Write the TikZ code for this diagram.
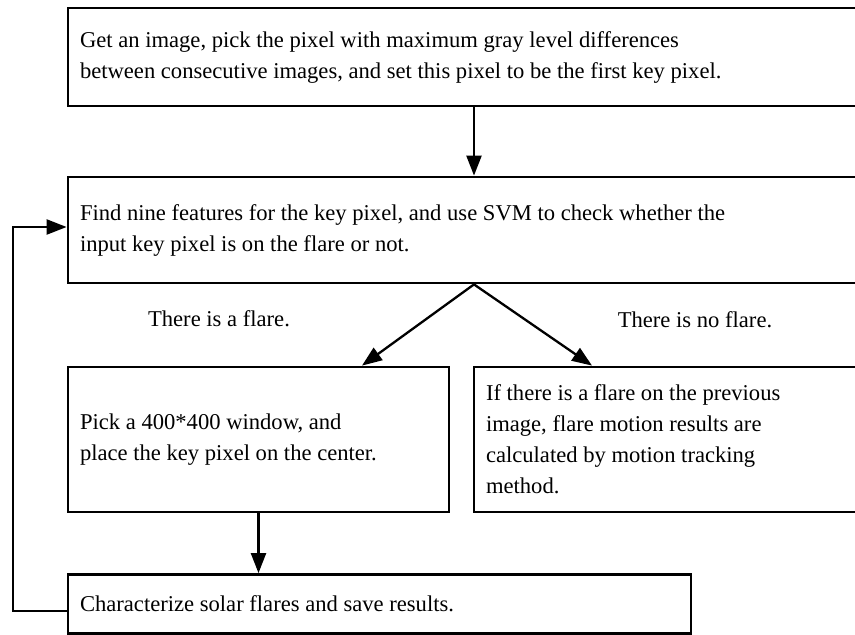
\documentclass[tikz,border=0pt]{standalone}
\usepackage{fontspec}
\setmainfont{Liberation Serif}
\usetikzlibrary{arrows.meta}
\begin{document}
\begin{tikzpicture}[x=1pt,y=-1pt,
  box/.style={draw, line width=2.8pt, inner xsep=12pt, inner ysep=0pt, align=flush left,
    font=\fontsize{22.6}{31}\selectfont},
  lbl/.style={inner sep=0pt, font=\fontsize{22.6}{31}\selectfont},
  arr/.style={line width=2.3pt, -{Triangle[length=20pt,width=15pt]}}]
\useasboundingbox (0,0) rectangle (855,635);
% boxes
\node[box, text width=778pt, minimum height=98pt] (b1) at (469,57)
  {Get an image, pick the pixel with maximum gray level differences\\
   between consecutive images, and set this pixel to be the first key pixel.};
\node[box, text width=778pt, minimum height=106pt] (b2) at (469,230)
  {Find nine features for the key pixel, and use SVM to check whether the\\
   input key pixel is on the flare or not.};
\node[box, text width=357pt, minimum height=145pt] (b3) at (258.5,439.5)
  {Pick a 400*400 window, and\\
   place the key pixel on the center.};
\node[box, text width=372pt, minimum height=145pt] (b4) at (672,439.5)
  {If there is a flare on the previous\\
   image, flare motion results are\\
   calculated by motion tracking\\
   method.};
\node[box, text width=599pt, minimum height=59pt] (b5) at (379.5,604)
  {Characterize solar flares and save results.};
% labels
\node[lbl] (l1) at (219,319) {There is a flare.};
\node[lbl] (l2) at (695,320) {There is no flare.};
% helper coordinates
\coordinate (ax) at (474,0);
\coordinate (tl) at (362,0);
\coordinate (tr) at (592,0);
\coordinate (fb1) at (13,611);
\coordinate (fb2) at (13,227);
% connectors
\draw[arr] (b1.south -| ax) -- (b2.north -| ax);
\draw[arr] (b2.south -| ax) -- (b3.north -| tl);
\draw[arr] (b2.south -| ax) -- (b4.north -| tr);
\draw[arr] (b3.south) -- (b3.south |- b5.north);
\draw[arr] (b5.west |- fb1) -- (fb1) -- (fb2) -- (b2.west |- fb2);
\end{tikzpicture}
\end{document}
